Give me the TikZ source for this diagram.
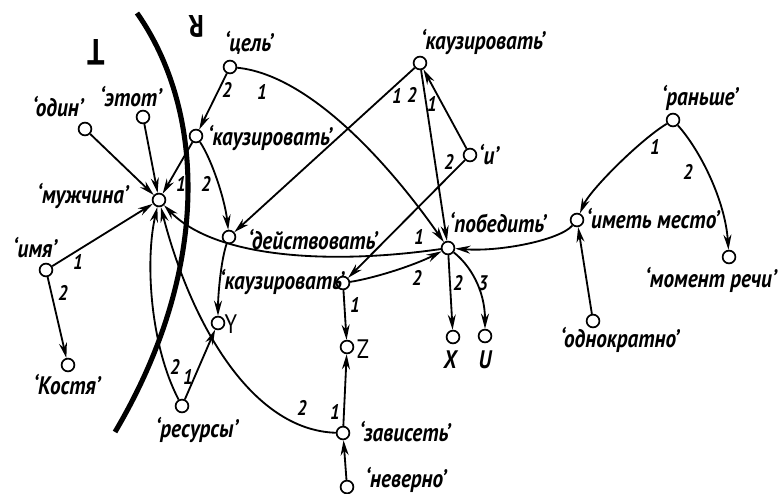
\documentclass[tikz,border=0pt]{standalone}
\usepackage{fontspec}
\newfontfamily\rusfont{PT Sans}[FakeStretch=0.84]
\usetikzlibrary{arrows.meta}

\begin{document}
\begin{tikzpicture}[x=0.025cm, y=-0.025cm,
  vtx/.style={circle, draw, fill=white, line width=1.2pt, inner sep=0pt,
              minimum size=0.32cm},
  wrd/.style={font=\rusfont\bfseries\itshape\fontsize{18}{20}\selectfont, inner sep=0pt},
  var/.style={font=\rusfont\fontsize{19}{21}\selectfont, inner sep=0pt},
  num/.style={font=\rusfont\bfseries\itshape\fontsize{15}{17}\selectfont, inner sep=0pt},
  big/.style={font=\rusfont\bfseries\fontsize{26}{28}\selectfont, inner sep=0pt,
              rotate=180},
  arr/.style={-{Stealth[length=3.8mm, width=2mm]}, line width=1.3pt},
  bound/.style={line width=3.6pt}]
  \useasboundingbox (0,0) rectangle (780,493);

  % boundary between T and R
  \draw[bound] (137,13) .. controls (205,110) and (212,268) .. (115,432);
  \node[big] (tT) at (96,52) {T};
  \node[big, font=\rusfont\bfseries\fontsize{22}{24}\selectfont] (tR) at (196,26) {R};

  \node[vtx] (odin)    at (85,129)  {};
  \node[vtx] (etot)    at (143,117) {};
  \node[vtx] (cel)     at (230,67)  {};
  \node[vtx] (kauz1)   at (196,136) {};
  \node[vtx] (muzh)    at (159,200) {};
  \node[vtx] (deistv)  at (229,237) {};
  \node[vtx] (kauz2)   at (420,63)  {};
  \node[vtx] (i)       at (470,155) {};
  \node[vtx] (pobed)   at (448,248) {};
  \node[vtx] (kauz3)   at (343,283) {};
  \node[vtx] (y)       at (218,323) {};
  \node[vtx] (z)       at (347,347) {};
  \node[vtx] (x)       at (453,337) {};
  \node[vtx] (u)       at (485,336) {};
  \node[vtx] (zavis)   at (343,433) {};
  \node[vtx] (neverno) at (347,487) {};
  \node[vtx] (resursy) at (182,406) {};
  \node[vtx] (imya)    at (46,270)  {};
  \node[vtx] (kostya)  at (68,365)  {};
  \node[vtx] (ransh)   at (673,120) {};
  \node[vtx] (imet)    at (577,220) {};
  \node[vtx] (moment)  at (729,257) {};
  \node[vtx] (odnokr)  at (593,321) {};

  \node[wrd] (l-odin)    at (58,107)  {‘один’};
  \node[wrd] (l-etot)    at (131,97)  {‘этот’};
  \node[wrd] (l-cel)     at (249,43)  {‘цель’};
  \node[wrd] (l-kauz1)   at (270,138) {‘каузировать’};
  \node[wrd] (l-muzh)    at (83,196)  {‘мужчина’};
  \node[wrd] (l-deistv)  at (313,240) {‘действовать’};
  \node[wrd] (l-kauz2)   at (483,42)  {‘каузировать’};
  \node[wrd] (l-i)       at (489,155) {‘и’};
  \node[wrd] (l-pobed)   at (498,223) {‘победить’};
  \node[wrd] (l-kauz3)   at (282,282) {‘каузировать’};
  \node[var] (l-y)       at (231,324) {Y};
  \node[var] (l-z)       at (363,349) {Z};
  \node[wrd] (l-x)       at (450,360) {X};
  \node[wrd] (l-u)       at (485,360) {U};
  \node[wrd] (l-zavis)   at (405,432) {‘зависеть’};
  \node[wrd] (l-neverno) at (406,480) {‘неверно’};
  \node[wrd] (l-resursy) at (197,430) {‘ресурсы’};
  \node[wrd] (l-imya)    at (35,248)  {‘имя’};
  \node[wrd] (l-kostya)  at (67,385)  {‘Костя’};
  \node[wrd] (l-ransh)   at (700,98)  {‘раньше’};
  \node[wrd] (l-imet)    at (653,219) {‘иметь место’};
  \node[wrd] (l-moment)  at (711,280) {‘момент речи’};
  \node[wrd] (l-odnokr)  at (620,340) {‘однократно’};

  \draw[arr] (odin) -- (muzh);
  \draw[arr] (etot) -- (muzh);
  \draw[arr] (kauz1) -- (muzh);
  \draw[arr] (cel) -- (kauz1);
  \draw[arr] (cel) .. controls (310,75) and (390,165) .. (pobed);
  \draw[arr] (kauz1) .. controls (212,160) and (225,200) .. (deistv);
  \draw[arr] (kauz2) -- (deistv);
  \draw[arr] (kauz2) -- (pobed);
  \draw[arr] (i) -- (kauz2);
  \draw[arr] (i) -- (kauz3);
  \draw[arr] (pobed) .. controls (330,265) and (215,258) .. (muzh);
  \draw[arr] (kauz3) .. controls (375,278) and (415,265) .. (pobed);
  \draw[arr] (pobed) -- (x);
  \draw[arr] (pobed) .. controls (470,265) and (485,290) .. (u);
  \draw[arr] (imet) .. controls (560,240) and (500,252) .. (pobed);
  \draw[arr] (ransh) .. controls (640,140) and (590,190) .. (imet);
  \draw[arr] (ransh) .. controls (700,150) and (725,200) .. (moment);
  \draw[arr] (odnokr) -- (imet);
  \draw[arr] (imya) -- (muzh);
  \draw[arr] (imya) -- (kostya);
  \draw[arr] (deistv) .. controls (221,260) and (218,295) .. (y);
  \draw[arr] (kauz3) -- (z);
  \draw[arr] (zavis) -- (z);
  \draw[arr] (neverno) -- (zavis);
  \draw[arr] (resursy) -- (y);
  \draw[arr] (resursy) .. controls (150,345) and (145,260) .. (muzh);
  \draw[arr] (zavis) .. controls (250,430) and (190,320) .. (muzh);

  \node[num] (e1)  at (227,90)  {2};
  \node[num] (e2)  at (262,92)  {1};
  \node[num] (e3)  at (181,184) {1};
  \node[num] (e4)  at (206,184) {2};
  \node[num] (e5)  at (397,96)  {1};
  \node[num] (e6)  at (412,95)  {2};
  \node[num] (e7)  at (432,104) {1};
  \node[num] (e8)  at (449,162) {2};
  \node[num] (e9)  at (419,237) {1};
  \node[num] (e10) at (417,278) {2};
  \node[num] (e11) at (458,283) {2};
  \node[num] (e12) at (483,283) {3};
  \node[num] (e13) at (655,147) {1};
  \node[num] (e14) at (688,172) {2};
  \node[num] (e15) at (78,262)  {1};
  \node[num] (e16) at (63,293)  {2};
  \node[num] (e17) at (355,305) {1};
  \node[num] (e18) at (335,412) {1};
  \node[num] (e19) at (188,377) {1};
  \node[num] (e20) at (175,367) {2};
  \node[num] (e21) at (302,408) {2};
\end{tikzpicture}
\end{document}
